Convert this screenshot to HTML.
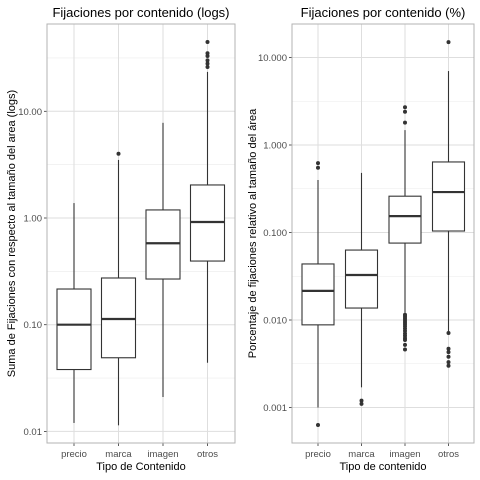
<!DOCTYPE html>
<html><head><meta charset="utf-8"><style>
html,body{margin:0;padding:0;background:#fff}
svg{display:block;font-family:"Liberation Sans",sans-serif}
</style></head><body>
<svg id="c" width="480" height="480"></svg>
<script>
const categories=["precio","marca","imagen","otros"];
// left panel: [low, q1, median, q3, high]
const leftStats=[[0.012,0.038,0.1,0.216,1.38],[0.0114,0.049,0.113,0.274,3.5],[0.021,0.268,0.58,1.19,7.8],[0.044,0.395,0.917,2.04,23.4]];
const leftOutliers=[[],[4.0],[],[26,28,30,33,35,44.6]];
const leftTicks=[0.01,0.1,1,10];
const leftTickLabels=["0.01","0.10","1.00","10.00"];
// right panel
const rightStats=[[0.001,0.0088,0.0215,0.0437,0.398],[0.0017,0.0137,0.0327,0.063,0.48],[0.0121,0.0757,0.154,0.26,1.48],[0.0071,0.104,0.29,0.64,7.0]];
const rightOutliers=[[0.62,0.55,0.00063],[0.0012,0.0011],[2.7,2.4,1.8,0.0115,0.011,0.0105,0.01,0.0095,0.009,0.0085,0.008,0.0075,0.007,0.0066,0.0062,0.0059,0.0052,0.0046],[15,0.0071,0.0047,0.0043,0.0038,0.0033,0.003]];
const rightTicks=[0.001,0.01,0.1,1,10];
const rightTickLabels=["0.001","0.010","0.100","1.000","10.000"];

const NS="http://www.w3.org/2000/svg",svg=document.getElementById('c');
function mk(t,a,p){const e=document.createElementNS(NS,t);for(const k in a)e.setAttribute(k,a[k]);(p||svg).appendChild(e);return e;}
function panel(o){
  const g=mk('g',{});
  
  
  const y=v=>o.y1-(Math.log10(v)-Math.log10(o.v1))*o.dec;
  const x=i=>o.x0+o.step*i;
  for(let i=0;i<o.ticks.length+1;i++){const v=o.ticks[0]*Math.pow(10,i-1)*Math.sqrt(10);const yy=y(v);
    if(yy>o.top&&yy<o.bot){const l=mk('line',{x1:o.l,x2:o.r,y1:yy,y2:yy,stroke:'#ebebeb','stroke-width':0.6},g);}}
  o.ticks.forEach((t,i)=>{const yy=y(t);
    const l=mk('line',{x1:o.l,x2:o.r,y1:yy,y2:yy,stroke:'#dedede','stroke-width':1},g);
    
    mk('line',{x1:o.l-3,x2:o.l,y1:yy,y2:yy,stroke:'#333','stroke-width':0.8},g);
    const tx=mk('text',{x:o.l-5,y:yy+3.5,'text-anchor':'end','font-size':9.5,fill:'#4d4d4d'},g);tx.textContent=o.labels[i];
    });
  categories.forEach((c,i)=>{const xx=x(i);
    mk('line',{x1:xx,x2:xx,y1:o.top,y2:o.bot,stroke:'#dedede','stroke-width':1},g);
    mk('line',{x1:xx,x2:xx,y1:o.bot,y2:o.bot+3,stroke:'#333','stroke-width':0.8},g);
    const tx=mk('text',{x:xx,y:o.bot+14,'text-anchor':'middle','font-size':9.5,fill:'#4d4d4d'},g);tx.textContent=c;
    });
  o.stats.forEach((s,i)=>{const xx=x(i),w=o.bw;
    const b=mk('g',{},g);
    mk('line',{x1:xx,x2:xx,y1:y(s[4]),y2:y(s[3]),stroke:'#333','stroke-width':1.1},b);
    mk('line',{x1:xx,x2:xx,y1:y(s[1]),y2:y(s[0]),stroke:'#333','stroke-width':1.1},b);
    mk('rect',{x:xx-w/2,y:y(s[3]),width:w,height:y(s[1])-y(s[3]),fill:'#fff',stroke:'#333','stroke-width':1.1},b);
    mk('line',{x1:xx-w/2,x2:xx+w/2,y1:y(s[2]),y2:y(s[2]),stroke:'#333','stroke-width':2.2},b);
    o.out[i].forEach(v=>{const p=mk('circle',{cx:xx,cy:y(v),r:2,fill:'#333'},b);});
  });
  mk('rect',{x:o.l,y:o.top,width:o.r-o.l,height:o.bot-o.top,fill:'none',stroke:'#b3b3b3','stroke-width':1},g);
  const t=mk('text',{x:(o.l+o.r)/2,y:17,'text-anchor':'middle','font-size':13,fill:'#000'},g);t.textContent=o.title;
  
  const xt=mk('text',{x:(o.l+o.r)/2,y:470,'text-anchor':'middle','font-size':11,fill:'#000'},g);xt.textContent=o.xt;
  
  const cy=(o.top+o.bot)/2;
  const yt=mk('text',{x:o.ytx,y:cy,'text-anchor':'middle','font-size':11,fill:'#000',transform:`rotate(-90 ${o.ytx} ${cy})`},g);yt.textContent=o.yt;
  
}
panel({name:'left-panel',l:47,r:235,top:24,bot:443,x0:74,step:44.5,bw:34,v1:1,y1:218,dec:106.7,ticks:leftTicks,labels:leftTickLabels,stats:leftStats,out:leftOutliers,title:'Fijaciones por contenido (logs)',xt:'Tipo de Contenido',yt:'Suma de Fijaciones con respecto al tamaño del area (logs)',ytx:15});
panel({name:'right-panel',l:292,r:474,top:24,bot:443,x0:318,step:43.5,bw:32,v1:1,y1:145,dec:87.5,ticks:rightTicks,labels:rightTickLabels,stats:rightStats,out:rightOutliers,title:'Fijaciones por contenido (%)',xt:'Tipo de contenido',yt:'Porcentaje de fijaciones relativo al tamaño del área',ytx:256});
</script>
</body></html>
